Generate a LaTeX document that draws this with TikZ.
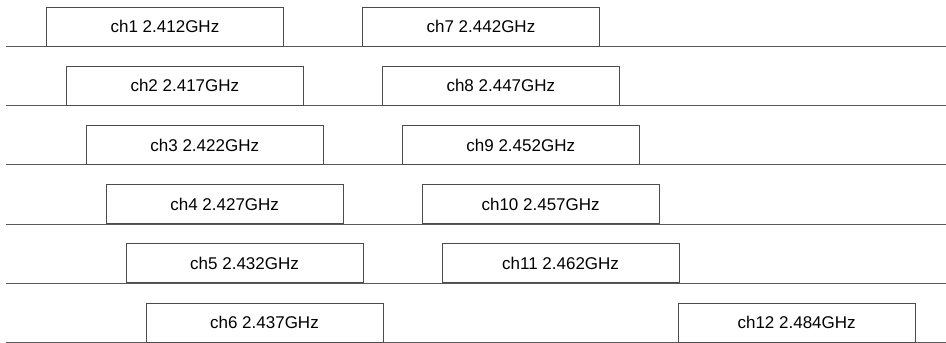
\documentclass[tikz,border=0pt]{standalone}
\usepackage{fontspec}
\setmainfont{Liberation Sans}
\usetikzlibrary{positioning}

\begin{document}
\begin{tikzpicture}[x=1pt, y=-1pt,
			chan/.style={draw=black!70, line width=0.9pt, minimum width=237pt, minimum height=39pt,
				inner sep=0pt, anchor=south west, font=\fontsize{17}{19}\selectfont},
			base/.style={draw=black!65, line width=1.1pt}]
			\useasboundingbox (0,0) rectangle (946,343);
			% Grundlinien
			\foreach \r in {1,...,6} {
				\coordinate (left\r) at (6, {46.5+59.2*(\r-1)});
				\coordinate (right\r) at (946, {46.5+59.2*(\r-1)});
				\draw[base] (left\r) -- (right\r);
			}
			% linke Spalte: ch1 bis ch6
			\foreach \r/\fr in {1/2.412, 2/2.417, 3/2.422, 4/2.427, 5/2.432, 6/2.437}
				\node[chan] (chan\r) at ({46+19.9*(\r-1)}, {46.5+59.2*(\r-1)}) {ch\r\ \fr GHz};
			% rechte Spalte: ch7 bis ch11
			\foreach \r/\n/\fr in {1/7/2.442, 2/8/2.447, 3/9/2.452, 4/10/2.457, 5/11/2.462}
				\node[chan] (chan\n) at ({362+19.9*(\r-1)}, {46.5+59.2*(\r-1)}) {ch\n\ \fr GHz};
			% ch12 abseits
			\node[chan] (chan12) at (677.7, {46.5+59.2*5}) {ch12 2.484GHz};
		\end{tikzpicture}
\end{document}
